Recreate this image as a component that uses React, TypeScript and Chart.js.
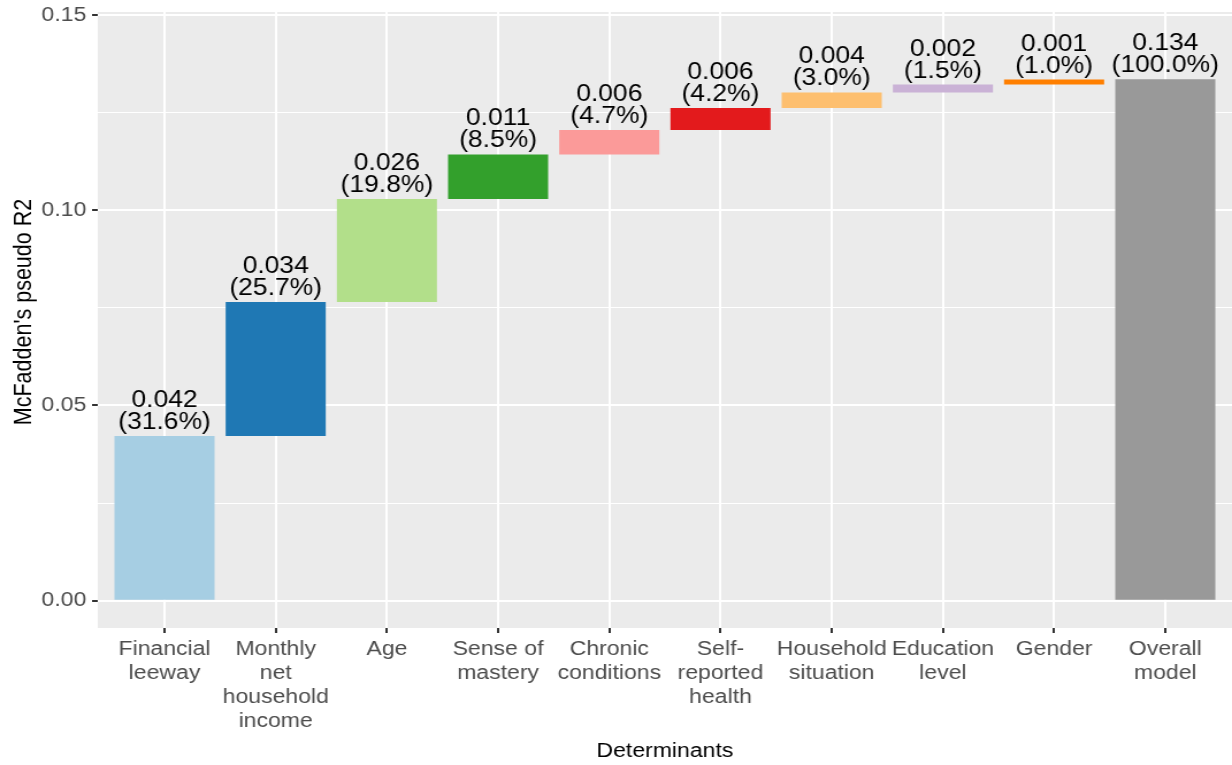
import React, { useEffect, useRef } from "react";
import { Chart, registerables } from "chart.js";

Chart.register(...registerables);

const categories: string[][] = [
  ["Financial", "leeway"],
  ["Monthly", "net", "household", "income"],
  ["Age"],
  ["Sense of", "mastery"],
  ["Chronic", "conditions"],
  ["Self-", "reported", "health"],
  ["Household", "situation"],
  ["Education", "level"],
  ["Gender"],
  ["Overall", "model"],
];

// contribution of each determinant to McFadden's pseudo R2
const contributions: number[] = [0.0422, 0.0343, 0.0264, 0.0114, 0.0063, 0.0056, 0.004, 0.002, 0.0013];
const overallValue = 0.1336;

const valueLabels: string[] = ["0.042", "0.034", "0.026", "0.011", "0.006", "0.006", "0.004", "0.002", "0.001", "0.134"];
const pctLabels: string[] = ["(31.6%)", "(25.7%)", "(19.8%)", "(8.5%)", "(4.7%)", "(4.2%)", "(3.0%)", "(1.5%)", "(1.0%)", "(100.0%)"];

const barColors: string[] = [
  "#A6CEE3", "#1F78B4", "#B2DF8A", "#33A02C", "#FB9A99",
  "#E31A1C", "#FDBF6F", "#CAB2D6", "#FF7F00", "#999999",
];

const yMajorTicks: number[] = [0, 0.05, 0.1, 0.15];
const yMinorTicks: number[] = [0.025, 0.075, 0.125];

const yTitle = "McFadden's pseudo R2";
const xTitle = "Determinants";

const FONT = "'Liberation Sans', Arial, Helvetica, sans-serif";

// the reference text is horizontally wider than its height suggests; draw narrower and stretch
const OUT_W = 1232;
const INNER_W = 1071;
const OUT_H = 765;

export default function App() {
  const ref = useRef<HTMLCanvasElement | null>(null);

  useEffect(() => {
    if (!ref.current) return;

    const ranges: [number, number][] = [];
    let cum = 0;
    contributions.forEach((c) => {
      ranges.push([cum, cum + c]);
      cum += c;
    });
    ranges.push([0, overallValue]);

    const data = ranges.map((r, i) => ({ x: i, y: r }));

    const bgPlugin = {
      id: "panelBg",
      beforeDraw(chart: any) {
        const { ctx, chartArea } = chart;
        ctx.save();
        ctx.fillStyle = "#FFFFFF";
        ctx.fillRect(0, 0, chart.width, chart.height);
        ctx.fillStyle = "#EBEBEB";
        ctx.fillRect(chartArea.left, chartArea.top, chartArea.right - chartArea.left, chartArea.bottom - chartArea.top);
        ctx.restore();
      },
    };

    const labelPlugin = {
      id: "barLabels",
      afterDatasetsDraw(chart: any) {
        const { ctx } = chart;
        const meta = chart.getDatasetMeta(0);
        ctx.save();
        ctx.font = `23px ${FONT}`;
        ctx.fillStyle = "#000000";
        ctx.textAlign = "center";
        ctx.textBaseline = "alphabetic";
        meta.data.forEach((el: any, i: number) => {
          const top = Math.min(el.y, el.base);
          ctx.fillText(pctLabels[i], el.x, top - 7);
          ctx.fillText(valueLabels[i], el.x, top - 29);
        });
        ctx.restore();
      },
    };

    const yTitlePlugin = {
      id: "yTitle",
      afterDraw(chart: any) {
        const { ctx, chartArea } = chart;
        ctx.save();
        ctx.font = `21.5px ${FONT}`;
        ctx.fillStyle = "#000000";
        ctx.textAlign = "center";
        ctx.textBaseline = "middle";
        ctx.translate(21, (chartArea.top + chartArea.bottom) / 2 - 8);
        ctx.rotate(-Math.PI / 2);
        ctx.fillText(yTitle, 0, 0);
        ctx.restore();
      },
    };

    const isMajor = (v: number) => yMajorTicks.some((m) => Math.abs(m - v) < 1e-9);

    const chart = new Chart(ref.current, {
      type: "bar",
      data: {
        datasets: [
          {
            data: data as any,
            backgroundColor: barColors,
            borderWidth: 0,
            barPercentage: 0.9,
            categoryPercentage: 1,
          },
        ],
      },
      options: {
        animation: false,
        responsive: true,
        maintainAspectRatio: false,
        devicePixelRatio: 1,
        events: [],
        layout: { padding: { top: 12, right: 0, left: 0, bottom: 0 } },
        plugins: {
          legend: { display: false },
          tooltip: { enabled: false },
        },
        scales: {
          x: {
            type: "linear",
            min: -0.6,
            max: 9.6,
            offset: false,
            afterBuildTicks: (scale: any) => {
              scale.ticks = categories.map((_, i) => ({ value: i }));
            },
            afterFit: (scale: any) => {
              scale.height = 137;
              scale.paddingLeft = 0;
              scale.paddingRight = 0;
            },
            ticks: {
              autoSkip: false,
              maxRotation: 0,
              minRotation: 0,
              padding: 4,
              color: "#4D4D4D",
              font: { family: FONT, size: 20, lineHeight: 1.2 },
              callback: (v: any) => categories[Math.round(Number(v))] as any,
            },
            grid: {
              offset: false,
              color: "#FFFFFF",
              lineWidth: 2,
              drawTicks: true,
              tickLength: 5,
              tickColor: "#333333",
              tickWidth: 2,
            },
            border: { display: false },
            title: {
              display: true,
              text: xTitle,
              color: "#000000",
              font: { family: FONT, size: 20 },
              padding: { top: 0, bottom: 2 },
            },
          },
          y: {
            type: "linear",
            min: -0.007,
            max: 0.1508,
            afterBuildTicks: (scale: any) => {
              scale.ticks = [...yMajorTicks, ...yMinorTicks].sort((a, b) => a - b).map((v) => ({ value: v }));
            },
            afterFit: (scale: any) => {
              scale.width = 85;
              scale.paddingTop = 0;
              scale.paddingBottom = 0;
            },
            ticks: {
              padding: 5,
              color: "#4D4D4D",
              font: { family: FONT, size: 20 },
              callback: (v: any) => (isMajor(Number(v)) ? Number(v).toFixed(2) : ""),
            },
            grid: {
              color: "#FFFFFF",
              lineWidth: (ctx: any) => (ctx.tick && isMajor(ctx.tick.value) ? 2 : 1),
              drawTicks: true,
              tickLength: 5,
              tickColor: (ctx: any) => (ctx.tick && isMajor(ctx.tick.value) ? "#333333" : "rgba(0,0,0,0)"),
              tickWidth: 2,
            },
            border: { display: false },
            title: { display: false },
          },
        },
      } as any,
      plugins: [bgPlugin, labelPlugin, yTitlePlugin],
    });

    return () => chart.destroy();
  }, []);

  return (
    <div style={{ position: "fixed", left: 0, top: 0, width: OUT_W, height: OUT_H, overflow: "hidden", background: "#fff" }}>
      <div
        style={{
          position: "absolute",
          left: 0,
          top: 0,
          width: INNER_W,
          height: OUT_H,
          transform: `scaleX(${OUT_W / INNER_W})`,
          transformOrigin: "0 0",
        }}
      >
        <canvas ref={ref} />
      </div>
    </div>
  );
}
